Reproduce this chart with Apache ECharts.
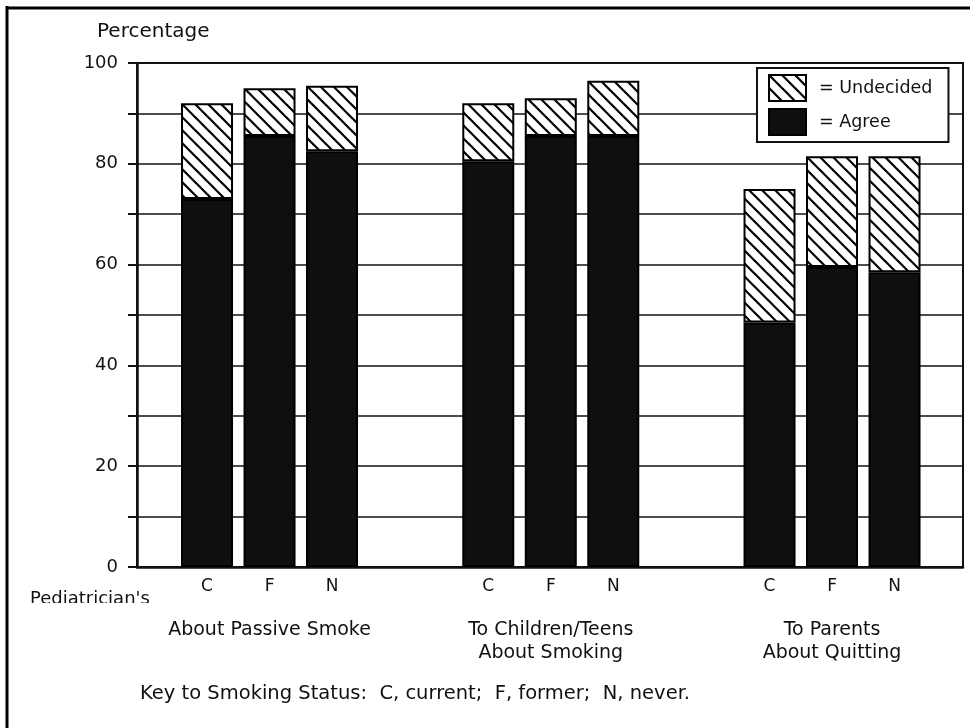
<!DOCTYPE html>
<html>
<head>
<meta charset="utf-8">
<script src="https://cdn.jsdelivr.net/npm/echarts@6/dist/echarts.min.js"></script>
<style>
html,body{margin:0;padding:0;background:#fff;}
#chart{width:970px;height:728px;}
</style>
</head>
<body>
<div id="chart"></div>
<script>
// ---- data ----
var statusLabels = ['C', 'F', 'N'];
var groupLabels = ['About Passive Smoke', 'To Children/Teens\nAbout Smoking', 'To Parents\nAbout Quitting'];
var agree = [73, 85.5, 82.5, 80.5, 85.5, 85.5, 48.5, 59.5, 58.5];
var undecided = [19, 9.5, 13, 11.5, 7.5, 11, 26.5, 22, 23];
var yTicks = [0, 20, 40, 60, 80, 100];

// ---- build category slots (half-bar spacing, empty spacers) ----
var SLOTS_PER_GROUP = 9, STEP = 2, NSLOTS = 23;
var catData = [], groupData = [], agreeData = [], undData = [];
for (var i = 0; i < NSLOTS; i++) { catData.push(''); groupData.push(''); agreeData.push(null); undData.push(null); }
for (var g = 0; g < groupLabels.length; g++) {
  for (var s = 0; s < statusLabels.length; s++) {
    var idx = g * SLOTS_PER_GROUP + s * STEP;
    var k = g * statusLabels.length + s;
    catData[idx] = statusLabels[s];
    agreeData[idx] = agree[k];
    undData[idx] = undecided[k];
  }
  groupData[g * SLOTS_PER_GROUP + STEP] = groupLabels[g];
}

// hatch pattern
var tile = 13;
var cv = document.createElement('canvas');
cv.width = tile; cv.height = tile;
var cx = cv.getContext('2d');
cx.fillStyle = '#fff'; cx.fillRect(0, 0, tile, tile);
cx.strokeStyle = '#000'; cx.lineWidth = 2.2;
for (var kk = -1; kk <= 1; kk++) {
  cx.beginPath();
  cx.moveTo(kk * tile - 2, -2);
  cx.lineTo(kk * tile + tile + 2, tile + 2);
  cx.stroke();
}

var FONT = 'DejaVu Sans';
var chart = echarts.init(document.getElementById('chart'), null, {renderer: 'canvas'});
chart.setOption({
  backgroundColor: '#fff',
  animation: false,
  textStyle: {fontFamily: FONT, color: '#111'},
  title: {
    text: 'Percentage', left: 92, top: 17,
    textStyle: {fontFamily: FONT, fontSize: 20, fontWeight: 'normal', color: '#111'}
  },
  legend: {
    data: ['Undecided', 'Agree'],
    orient: 'vertical', left: 757, top: 68,
    padding: [6, 16, 6, 11],
    itemWidth: 37, itemHeight: 26, itemGap: 6,
    backgroundColor: '#fff', borderColor: '#111', borderWidth: 2,
    icon: 'rect',
    formatter: function (n) { return '= ' + n; },
    textStyle: {fontFamily: FONT, fontSize: 17.5, color: '#111', padding: [0, 0, 0, 8]}
  },
  grid: [
    {left: 137, right: 7, top: 63, bottom: 161, show: true, borderColor: '#111', borderWidth: 2, containLabel: false},
    {left: 191.4, right: 59.85, top: 63, bottom: 161, containLabel: false}
  ],
  xAxis: [
    {gridIndex: 0, type: 'value', min: 0, max: 1, show: true,
      axisLine: {show: true, lineStyle: {color: '#111', width: 2.5}},
      axisTick: {show: false}, axisLabel: {show: false}, splitLine: {show: false}},
    {gridIndex: 1, type: 'category', position: 'bottom', data: catData, boundaryGap: true,
      axisLine: {show: false}, axisTick: {show: false},
      axisLabel: {interval: 0, margin: 11, fontFamily: FONT, fontSize: 17, color: '#111'}},
    {gridIndex: 1, type: 'category', position: 'bottom', data: groupData, boundaryGap: true,
      axisLine: {show: false}, axisTick: {show: false},
      axisLabel: {interval: 0, margin: 52, fontFamily: FONT, fontSize: 19, lineHeight: 23, color: '#111', align: 'center'}}
  ],
  yAxis: [
    {gridIndex: 0, type: 'value', min: 0, max: 100, interval: 10,
      axisLine: {show: true, lineStyle: {color: '#111', width: 2.5}},
      axisTick: {show: true, length: 9, lineStyle: {color: '#111', width: 2}},
      axisLabel: {margin: 19, fontFamily: FONT, fontSize: 18, color: '#111',
        formatter: function (v) { return yTicks.indexOf(v) >= 0 ? String(v) : ''; }},
      splitLine: {show: true, lineStyle: {color: '#111', width: 1.6}}},
    {gridIndex: 1, type: 'value', min: 0, max: 100, show: false}
  ],
  series: [
    {name: 'Agree', type: 'bar', stack: 'all', xAxisIndex: 1, yAxisIndex: 1, barWidth: 52, clip: false,
      data: agreeData,
      itemStyle: {color: '#0f0f0f', borderColor: '#000', borderWidth: 2}},
    {name: 'Undecided', type: 'bar', stack: 'all', xAxisIndex: 1, yAxisIndex: 1, barWidth: 52, clip: false,
      data: undData,
      itemStyle: {color: {image: cv, repeat: 'repeat'}, borderColor: '#000', borderWidth: 2}}
  ],
  graphic: [
    {type: 'line', shape: {x1: 7, y1: 6, x2: 7, y2: 728}, style: {stroke: '#000', lineWidth: 3}},
    {type: 'line', shape: {x1: 6, y1: 8, x2: 970, y2: 8}, style: {stroke: '#000', lineWidth: 3}},
    {type: 'text', left: 30, top: 590, style: {text: "Pediatrician's", font: '18px "DejaVu Sans"', fill: '#111'}},
    {type: 'rect', shape: {x: 20, y: 603, width: 150, height: 14}, style: {fill: '#fff'}, z: 100},
    {type: 'text', left: 140, top: 684, style: {text: 'Key to Smoking Status:  C, current;  F, former;  N, never.', font: '19.5px "DejaVu Sans"', fill: '#111'}}
  ]
});
</script>
</body>
</html>
